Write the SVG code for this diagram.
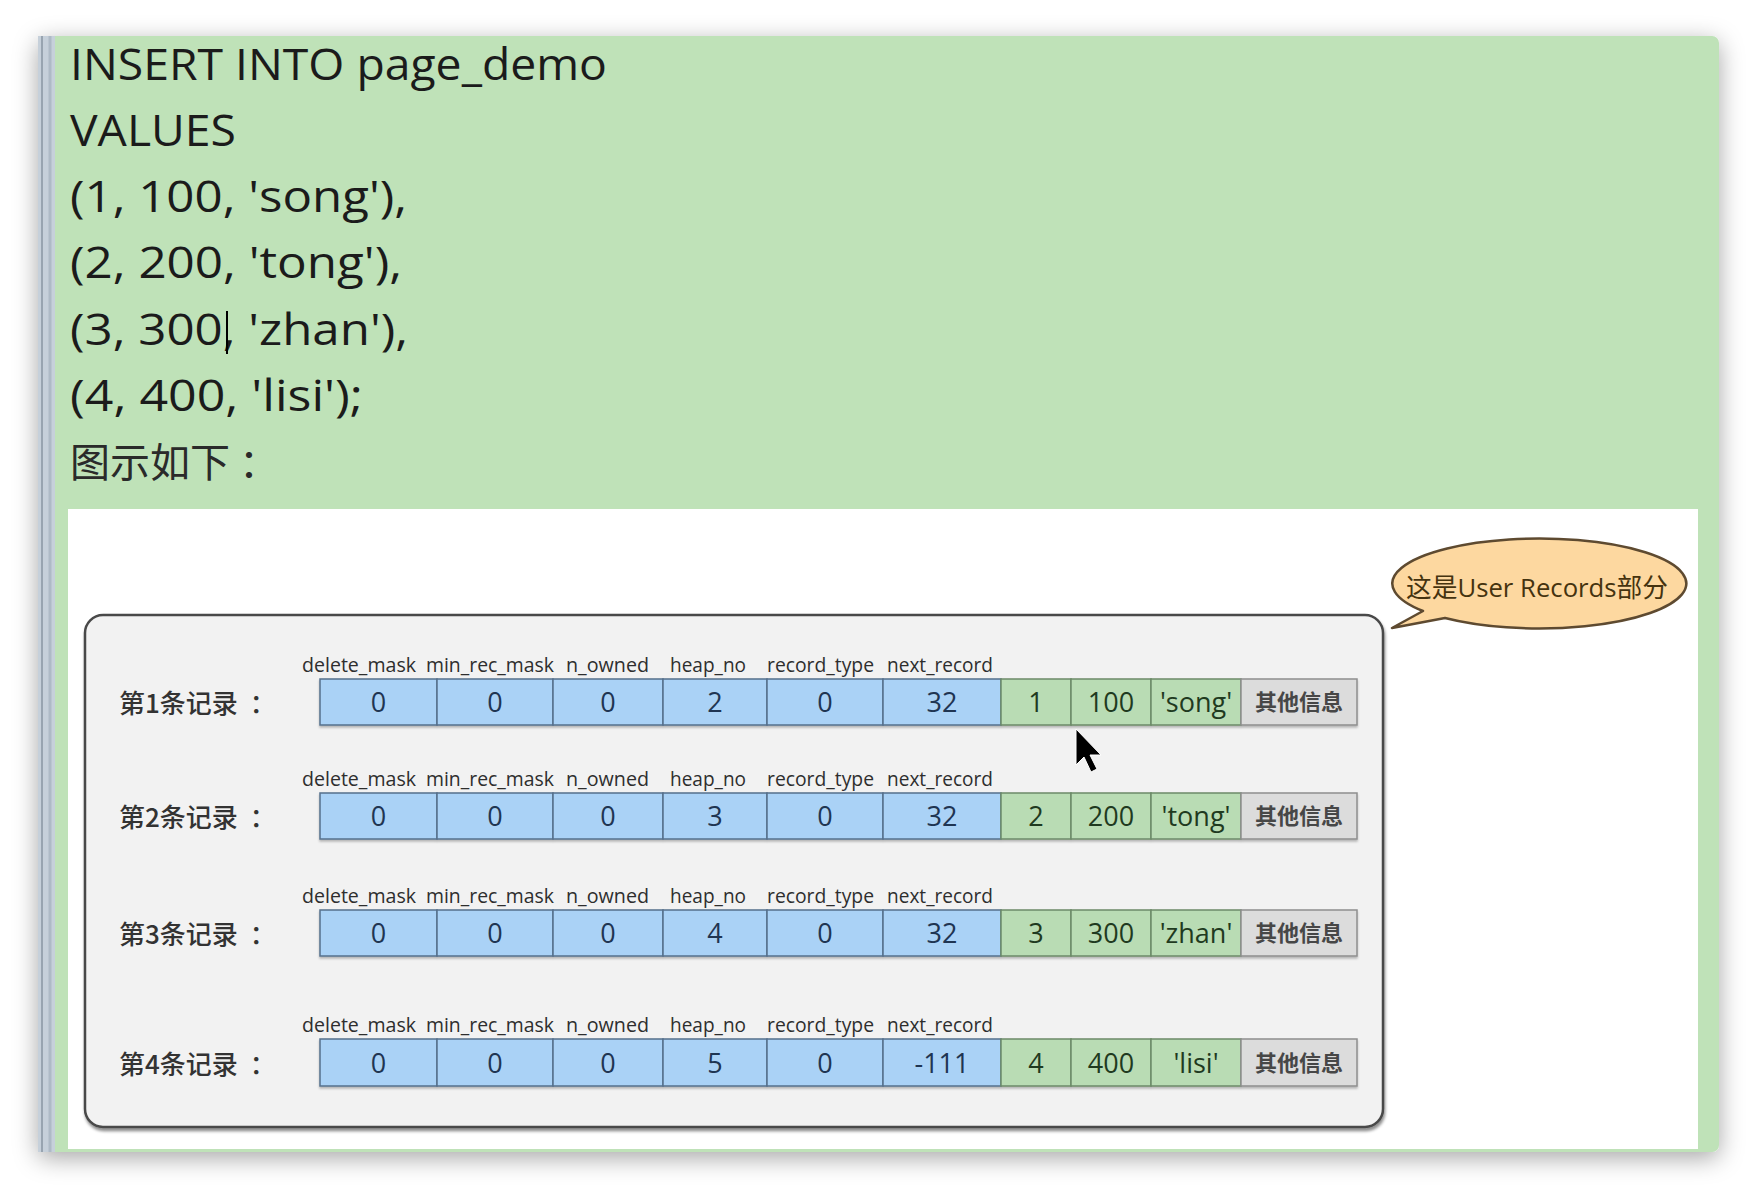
<svg xmlns="http://www.w3.org/2000/svg" width="1756" height="1188" viewBox="0 0 1756 1188">
  <style>
    .sql { font-family: "Open Sans", "Noto Sans CJK SC", sans-serif; font-size: 43px; fill: #1b1b1b; }
    .cjk { font-family: "Noto Sans CJK SC", sans-serif; }
    .rowlabel { font-family: "Noto Sans CJK SC", sans-serif; font-size: 26px; fill: #333333; font-weight: 500; }
    .hdr { font-family: "Open Sans", sans-serif; font-size: 20px; fill: #2e2e2e; }
    .val { font-family: "Open Sans", "Noto Sans CJK SC", sans-serif; font-size: 27px; text-anchor: middle; }
    .blue { fill: #aad2f6; stroke: #56708c; stroke-width: 1.5; }
    .green { fill: #b9dcb4; stroke: #6c8a68; stroke-width: 1.5; }
    .gray { fill: #dcdcdc; stroke: #8e8e8e; stroke-width: 1.5; }
    .tb { fill: #1f3552; }
    .tg { fill: #1f3a1f; }
    .tx { fill: #474747; font-family: "Noto Sans CJK SC", sans-serif; font-size: 22px; font-weight: bold; }
  </style>
  <defs>
    <filter id="panelShadow" x="-5%" y="-8%" width="110%" height="118%">
      <feDropShadow dx="0" dy="6" stdDeviation="12" flood-color="#000" flood-opacity="0.35"/>
    </filter>
    <filter id="boxShadow" x="-3%" y="-3%" width="106%" height="108%">
      <feDropShadow dx="1" dy="3" stdDeviation="1.5" flood-color="#000" flood-opacity="0.45"/>
    </filter>
    <filter id="cellShadow" x="-3%" y="-10%" width="106%" height="130%">
      <feDropShadow dx="0" dy="2" stdDeviation="1" flood-color="#000" flood-opacity="0.25"/>
    </filter>
  </defs>

  <rect x="0" y="0" width="1756" height="1188" fill="#ffffff"/>

  <g id="panel">
    <rect x="38" y="36" width="1681" height="1116" rx="7" fill="#bfe2b8" filter="url(#panelShadow)"/>
    <rect x="38" y="36" width="17" height="1116" fill="#c6d0da"/>
    <line x1="42" y1="36" x2="42" y2="1152" stroke="#98a4b0" stroke-width="2"/>
    <line x1="50" y1="36" x2="50" y2="1152" stroke="#aebac6" stroke-width="3"/>
    <rect x="68" y="509" width="1630" height="640" fill="#ffffff"/>
  </g>

  <g id="sql-text">
    <text class="sql" x="70" y="80" textLength="537" lengthAdjust="spacingAndGlyphs">INSERT INTO page_demo</text>
    <text class="sql" x="70" y="146" textLength="166" lengthAdjust="spacingAndGlyphs">VALUES</text>
    <text class="sql" x="70" y="212" textLength="337" lengthAdjust="spacingAndGlyphs">(1, 100, 'song'),</text>
    <text class="sql" x="70" y="278" textLength="332" lengthAdjust="spacingAndGlyphs">(2, 200, 'tong'),</text>
    <text class="sql" x="70" y="345" textLength="338" lengthAdjust="spacingAndGlyphs">(3, 300, 'zhan'),</text>
    <text class="sql" x="70" y="411" textLength="293" lengthAdjust="spacingAndGlyphs">(4, 400, 'lisi');</text>
    <text class="cjk" x="70" y="477" font-size="40" fill="#2a2a2a">图示如下<tspan dx="9">：</tspan></text>
    <line x1="227" y1="311" x2="227" y2="354" stroke="#000" stroke-width="2"/>
  </g>

  <g id="records-box">
    <rect x="85" y="615" width="1298" height="512" rx="18" fill="#f2f2f2" stroke="#4a4a4a" stroke-width="2.5" filter="url(#boxShadow)"/>
  </g>

  <g id="callout">
    <path d="M 1423 611 L 1392 628 L 1445 618 A 147 45 0 1 0 1423 611 Z" fill="#fdd8a0" stroke="#5e4a30" stroke-width="2.5" stroke-linejoin="round"/>
    <text x="1537" y="597" text-anchor="middle" font-family="Open Sans, Noto Sans CJK SC, sans-serif" font-size="26" fill="#45330f" textLength="262" lengthAdjust="spacingAndGlyphs">这是User Records部分</text>
  </g>

  <g id="record-1">
    <text class="rowlabel" x="119" y="713">第1条记录<tspan dx="12">：</tspan></text>
    <text class="hdr" x="302" y="672" textLength="114" lengthAdjust="spacingAndGlyphs">delete_mask</text>
    <text class="hdr" x="426" y="672" textLength="128" lengthAdjust="spacingAndGlyphs">min_rec_mask</text>
    <text class="hdr" x="566" y="672" textLength="83" lengthAdjust="spacingAndGlyphs">n_owned</text>
    <text class="hdr" x="670" y="672" textLength="76" lengthAdjust="spacingAndGlyphs">heap_no</text>
    <text class="hdr" x="767" y="672" textLength="107" lengthAdjust="spacingAndGlyphs">record_type</text>
    <text class="hdr" x="887" y="672" textLength="106" lengthAdjust="spacingAndGlyphs">next_record</text>
    <g filter="url(#cellShadow)">
      <rect class="blue" x="320" y="679" width="117" height="46"/>
      <rect class="blue" x="437" y="679" width="116" height="46"/>
      <rect class="blue" x="553" y="679" width="110" height="46"/>
      <rect class="blue" x="663" y="679" width="104" height="46"/>
      <rect class="blue" x="767" y="679" width="116" height="46"/>
      <rect class="blue" x="883" y="679" width="118" height="46"/>
      <rect class="green" x="1001" y="679" width="70" height="46"/>
      <rect class="green" x="1071" y="679" width="80" height="46"/>
      <rect class="green" x="1151" y="679" width="90" height="46"/>
      <rect class="gray" x="1241" y="679" width="116" height="46"/>
    </g>
    <text class="val tb" x="378.5" y="712">0</text>
    <text class="val tb" x="495" y="712">0</text>
    <text class="val tb" x="608" y="712">0</text>
    <text class="val tb" x="715" y="712">2</text>
    <text class="val tb" x="825" y="712">0</text>
    <text class="val tb" x="942" y="712">32</text>
    <text class="val tg" x="1036" y="712">1</text>
    <text class="val tg" x="1111" y="712">100</text>
    <text class="val tg" x="1196" y="712">'song'</text>
    <text class="tx" x="1299" y="710" text-anchor="middle">其他信息</text>
  </g>

  <g id="record-2">
    <text class="rowlabel" x="119" y="827">第2条记录<tspan dx="12">：</tspan></text>
    <text class="hdr" x="302" y="786" textLength="114" lengthAdjust="spacingAndGlyphs">delete_mask</text>
    <text class="hdr" x="426" y="786" textLength="128" lengthAdjust="spacingAndGlyphs">min_rec_mask</text>
    <text class="hdr" x="566" y="786" textLength="83" lengthAdjust="spacingAndGlyphs">n_owned</text>
    <text class="hdr" x="670" y="786" textLength="76" lengthAdjust="spacingAndGlyphs">heap_no</text>
    <text class="hdr" x="767" y="786" textLength="107" lengthAdjust="spacingAndGlyphs">record_type</text>
    <text class="hdr" x="887" y="786" textLength="106" lengthAdjust="spacingAndGlyphs">next_record</text>
    <g filter="url(#cellShadow)">
      <rect class="blue" x="320" y="793" width="117" height="46"/>
      <rect class="blue" x="437" y="793" width="116" height="46"/>
      <rect class="blue" x="553" y="793" width="110" height="46"/>
      <rect class="blue" x="663" y="793" width="104" height="46"/>
      <rect class="blue" x="767" y="793" width="116" height="46"/>
      <rect class="blue" x="883" y="793" width="118" height="46"/>
      <rect class="green" x="1001" y="793" width="70" height="46"/>
      <rect class="green" x="1071" y="793" width="80" height="46"/>
      <rect class="green" x="1151" y="793" width="90" height="46"/>
      <rect class="gray" x="1241" y="793" width="116" height="46"/>
    </g>
    <text class="val tb" x="378.5" y="826">0</text>
    <text class="val tb" x="495" y="826">0</text>
    <text class="val tb" x="608" y="826">0</text>
    <text class="val tb" x="715" y="826">3</text>
    <text class="val tb" x="825" y="826">0</text>
    <text class="val tb" x="942" y="826">32</text>
    <text class="val tg" x="1036" y="826">2</text>
    <text class="val tg" x="1111" y="826">200</text>
    <text class="val tg" x="1196" y="826">'tong'</text>
    <text class="tx" x="1299" y="824" text-anchor="middle">其他信息</text>
  </g>

  <g id="record-3">
    <text class="rowlabel" x="119" y="944">第3条记录<tspan dx="12">：</tspan></text>
    <text class="hdr" x="302" y="903" textLength="114" lengthAdjust="spacingAndGlyphs">delete_mask</text>
    <text class="hdr" x="426" y="903" textLength="128" lengthAdjust="spacingAndGlyphs">min_rec_mask</text>
    <text class="hdr" x="566" y="903" textLength="83" lengthAdjust="spacingAndGlyphs">n_owned</text>
    <text class="hdr" x="670" y="903" textLength="76" lengthAdjust="spacingAndGlyphs">heap_no</text>
    <text class="hdr" x="767" y="903" textLength="107" lengthAdjust="spacingAndGlyphs">record_type</text>
    <text class="hdr" x="887" y="903" textLength="106" lengthAdjust="spacingAndGlyphs">next_record</text>
    <g filter="url(#cellShadow)">
      <rect class="blue" x="320" y="910" width="117" height="46"/>
      <rect class="blue" x="437" y="910" width="116" height="46"/>
      <rect class="blue" x="553" y="910" width="110" height="46"/>
      <rect class="blue" x="663" y="910" width="104" height="46"/>
      <rect class="blue" x="767" y="910" width="116" height="46"/>
      <rect class="blue" x="883" y="910" width="118" height="46"/>
      <rect class="green" x="1001" y="910" width="70" height="46"/>
      <rect class="green" x="1071" y="910" width="80" height="46"/>
      <rect class="green" x="1151" y="910" width="90" height="46"/>
      <rect class="gray" x="1241" y="910" width="116" height="46"/>
    </g>
    <text class="val tb" x="378.5" y="943">0</text>
    <text class="val tb" x="495" y="943">0</text>
    <text class="val tb" x="608" y="943">0</text>
    <text class="val tb" x="715" y="943">4</text>
    <text class="val tb" x="825" y="943">0</text>
    <text class="val tb" x="942" y="943">32</text>
    <text class="val tg" x="1036" y="943">3</text>
    <text class="val tg" x="1111" y="943">300</text>
    <text class="val tg" x="1196" y="943">'zhan'</text>
    <text class="tx" x="1299" y="941" text-anchor="middle">其他信息</text>
  </g>

  <g id="record-4">
    <text class="rowlabel" x="119" y="1074">第4条记录<tspan dx="12">：</tspan></text>
    <text class="hdr" x="302" y="1032" textLength="114" lengthAdjust="spacingAndGlyphs">delete_mask</text>
    <text class="hdr" x="426" y="1032" textLength="128" lengthAdjust="spacingAndGlyphs">min_rec_mask</text>
    <text class="hdr" x="566" y="1032" textLength="83" lengthAdjust="spacingAndGlyphs">n_owned</text>
    <text class="hdr" x="670" y="1032" textLength="76" lengthAdjust="spacingAndGlyphs">heap_no</text>
    <text class="hdr" x="767" y="1032" textLength="107" lengthAdjust="spacingAndGlyphs">record_type</text>
    <text class="hdr" x="887" y="1032" textLength="106" lengthAdjust="spacingAndGlyphs">next_record</text>
    <g filter="url(#cellShadow)">
      <rect class="blue" x="320" y="1039" width="117" height="47"/>
      <rect class="blue" x="437" y="1039" width="116" height="47"/>
      <rect class="blue" x="553" y="1039" width="110" height="47"/>
      <rect class="blue" x="663" y="1039" width="104" height="47"/>
      <rect class="blue" x="767" y="1039" width="116" height="47"/>
      <rect class="blue" x="883" y="1039" width="118" height="47"/>
      <rect class="green" x="1001" y="1039" width="70" height="47"/>
      <rect class="green" x="1071" y="1039" width="80" height="47"/>
      <rect class="green" x="1151" y="1039" width="90" height="47"/>
      <rect class="gray" x="1241" y="1039" width="116" height="47"/>
    </g>
    <text class="val tb" x="378.5" y="1073">0</text>
    <text class="val tb" x="495" y="1073">0</text>
    <text class="val tb" x="608" y="1073">0</text>
    <text class="val tb" x="715" y="1073">5</text>
    <text class="val tb" x="825" y="1073">0</text>
    <text class="val tb" x="942" y="1073">-111</text>
    <text class="val tg" x="1036" y="1073">4</text>
    <text class="val tg" x="1111" y="1073">400</text>
    <text class="val tg" x="1196" y="1073">'lisi'</text>
    <text class="tx" x="1299" y="1071" text-anchor="middle">其他信息</text>
  </g>

  <g id="connectors"></g>

  <g id="mouse-cursor">
    <polygon points="1076,729 1076,765 1084,757 1091,772 1097,769 1090,755 1101,755" fill="#000" stroke="#fff" stroke-width="1"/>
  </g>
</svg>
